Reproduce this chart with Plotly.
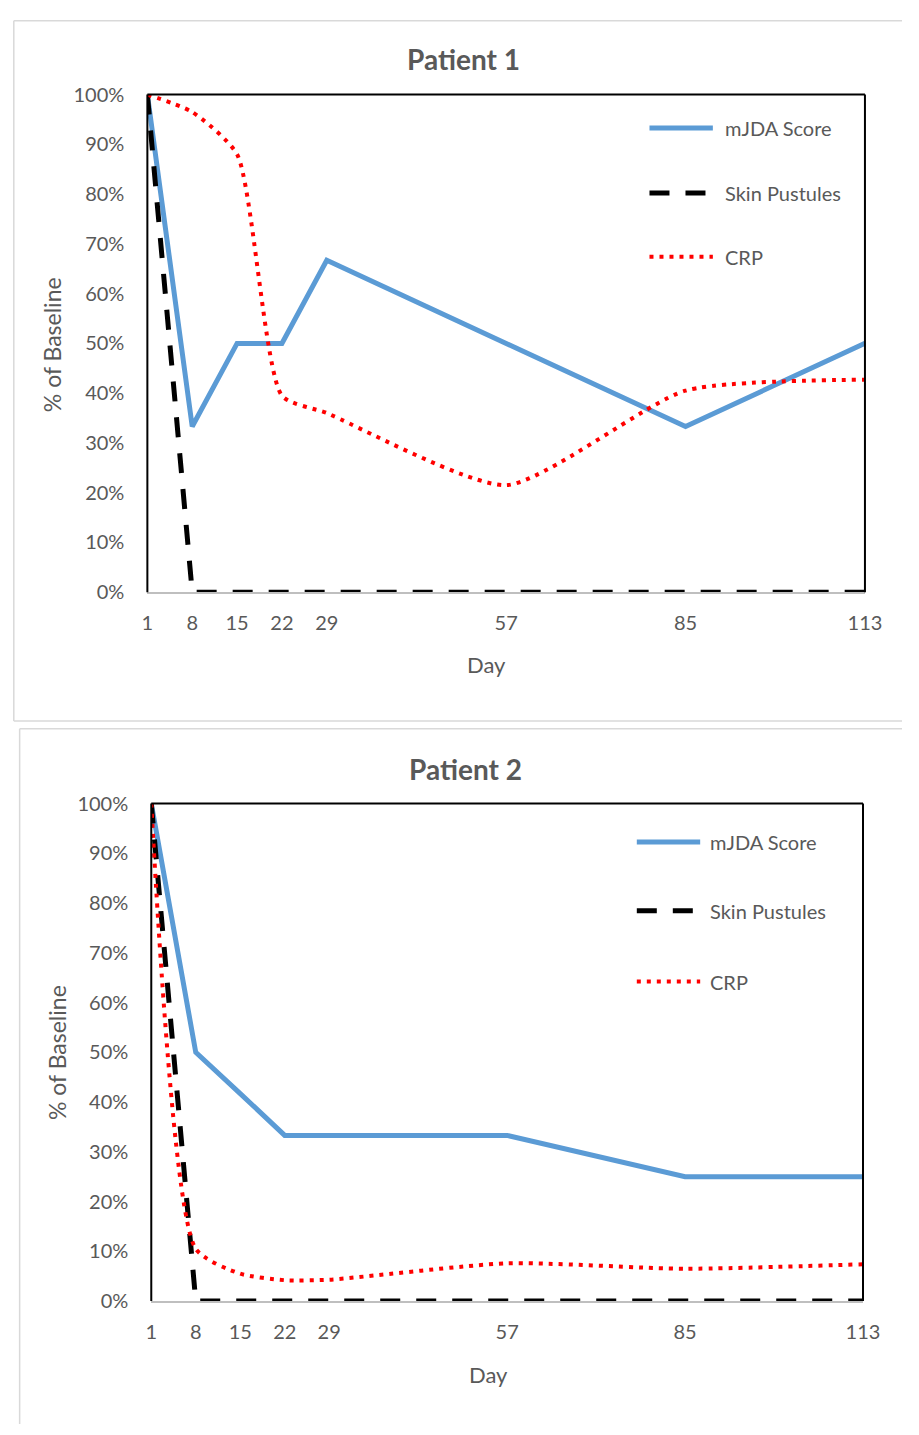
import plotly.graph_objects as go

days = [1, 8, 15, 22, 29, 57, 85, 113]

p1_mjda = [1.0, 0.333, 0.50, 0.50, 0.667, 0.50, 0.333, 0.50]
p1_skin = [1.0, 0, 0, 0, 0, 0, 0, 0]
p1_crp = [1.0, 0.965, 0.88, 0.395, 0.36, 0.215, 0.405, 0.427]

p2_mjda = [1.0, 0.50, 0.417, 0.333, 0.333, 0.333, 0.25, 0.25]
p2_skin = [1.0, 0, 0, 0, 0, 0, 0, 0]
p2_crp = [1.0, 0.105, 0.055, 0.042, 0.043, 0.076, 0.065, 0.074]

series_names = ["mJDA Score", "Skin Pustules", "CRP"]
y_ticks = [i / 10 for i in range(11)]

W, H = 919, 1435
FONT = "Lato"
GREY_TXT = "#595959"
BLUE = "#5B9BD5"

LINE_STYLES = [
    dict(color=BLUE, width=5),
    dict(color="black", width=5, dash="20px,16px"),
    dict(color="#FF0000", width=4, dash="4px,6px"),
]


def px_x(v):
    return v / W


def px_y(v):
    return 1 - v / H


fig = go.Figure()

panels = [
    dict(series=[p1_mjda, p1_skin, p1_crp], x="x", y="y"),
    dict(series=[p2_mjda, p2_skin, p2_crp], x="x2", y="y2"),
]

for p in panels:
    for name, vals, style in zip(series_names, p["series"], LINE_STYLES):
        line = dict(style)
        if name == "CRP":
            line.update(shape="spline", smoothing=0.6)
        fig.add_trace(go.Scatter(
            x=days, y=vals, name=name, mode="lines", line=line,
            xaxis=p["x"], yaxis=p["y"], showlegend=False,
        ))

# plot areas (pixels): panel 1 x 145-881, y 83-589 ; panel 2 x 149-879, y 804-1310
areas = [(145, 881, 83, 589), (149, 879, 804, 1310)]

axis_common = dict(
    showgrid=False, zeroline=False, ticks="",
    tickfont=dict(family=FONT, size=20, color=GREY_TXT),
)

layout = dict(
    width=W, height=H, margin=dict(l=0, r=0, t=0, b=0),
    paper_bgcolor="white", plot_bgcolor="white",
    font=dict(family=FONT, color=GREY_TXT),
    shapes=[], annotations=[], showlegend=False,
)

for i, (x0, x1, y0, y1) in enumerate(areas):
    sfx = "" if i == 0 else "2"
    layout["xaxis" + sfx] = dict(
        axis_common, domain=[px_x(x0), px_x(x1)], range=[1, 113],
        tickvals=days, ticktext=[str(d) for d in days],
        showline=True, linecolor="#BFBFBF", linewidth=1.5,
        ticklabelstandoff=12, anchor="y" + sfx,
    )
    layout["yaxis" + sfx] = dict(
        axis_common, domain=[px_y(y1), px_y(y0)], range=[0, 1],
        tickvals=y_ticks, tickformat=".0%",
        showline=False, ticklabelstandoff=22, anchor="x" + sfx,
    )
    xr = "x" + sfx + " domain"
    yr = "y" + sfx + " domain"
    for (a, b, c, d) in [(0, 1, 1, 1), (0, 0, 0, 1), (1, 1, 0, 1)]:
        layout["shapes"].append(dict(
            type="line", xref=xr, yref=yr, x0=a, x1=b, y0=c, y1=d,
            line=dict(color="black", width=2), layer="above",
        ))

# chart object outlines (kept inside the page)
outline = [
    (8, 8, 919, 8), (8, 8, 8, 720), (8, 720, 919, 720),
    (14, 728, 919, 728), (14, 728, 14, 1435),
]
for xa, ya, xb, yb in outline:
    layout["shapes"].append(dict(
        type="line", xref="paper", yref="paper",
        x0=px_x(xa), y0=px_y(ya), x1=px_x(xb), y1=px_y(yb),
        line=dict(color="#D9D9D9", width=1.5), layer="below",
    ))

# legends drawn as line samples + labels
legend_rows = [
    (660, 725, 735, [117, 183, 248]),
    (647, 712, 720, [843, 913, 985]),
]
for lx0, lx1, tx, ys in legend_rows:
    for name, style, yy in zip(series_names, LINE_STYLES, ys):
        layout["shapes"].append(dict(
            type="line", xref="paper", yref="paper",
            x0=px_x(lx0), x1=px_x(lx1), y0=px_y(yy), y1=px_y(yy), line=style,
        ))
        layout["annotations"].append(dict(
            text=name, x=px_x(tx), y=px_y(yy), xref="paper", yref="paper",
            showarrow=False, xanchor="left", yanchor="middle",
            font=dict(family=FONT, size=20, color=GREY_TXT),
        ))

texts = [
    ("<b>Patient 1</b>", 469, 47, 0, 28),
    ("% of Baseline", 48, 337, -90, 23),
    ("Day", 493, 663, 0, 22),
    ("<b>Patient 2</b>", 471, 769, 0, 28),
    ("% of Baseline", 53, 1057, -90, 23),
    ("Day", 495, 1385, 0, 22),
]
for t, x, y, ang, sz in texts:
    layout["annotations"].append(dict(
        text=t, x=px_x(x), y=px_y(y), xref="paper", yref="paper",
        showarrow=False, textangle=ang, xanchor="center", yanchor="middle",
        font=dict(family=FONT, size=sz, color=GREY_TXT),
    ))

fig.update_layout(**layout)
fig.write_html(
    "out.html",
    config={"displayModeBar": False},
    post_script="document.body.style.margin='0';document.body.style.overflow='hidden';",
)
